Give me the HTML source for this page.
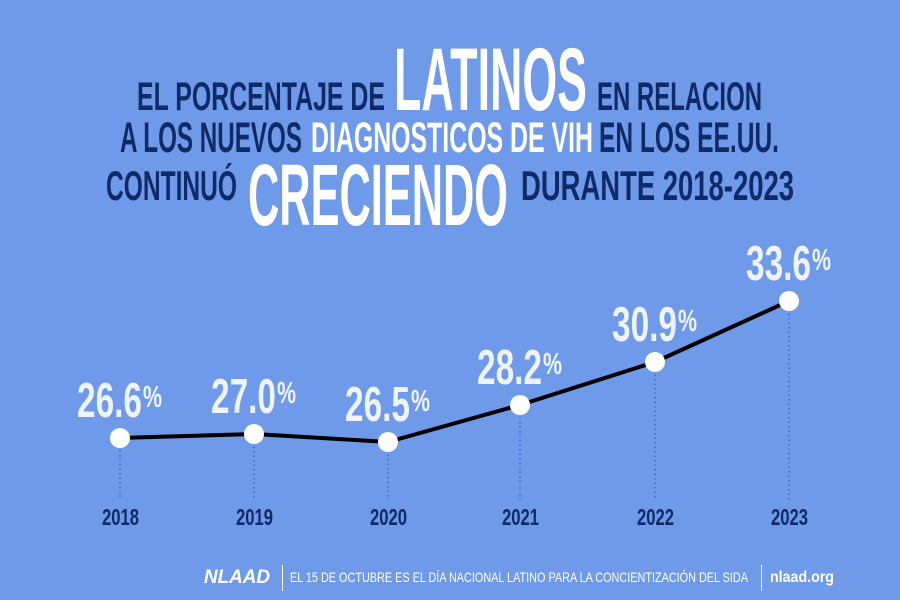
<!DOCTYPE html>
<html><head><meta charset="utf-8"><style>
html,body{margin:0;padding:0;background:#6f9aea;}
svg{display:block;}
text{font-family:"Liberation Sans Narrow","Liberation Sans",sans-serif;font-weight:bold;}
</style></head><body>
<svg width="900" height="600" viewBox="0 0 900 600" xmlns="http://www.w3.org/2000/svg">
<rect width="900" height="600" fill="#6f9aea"/>
<g fill="#0f2a66">
<text x="137" y="110" font-size="40" textLength="248" lengthAdjust="spacingAndGlyphs">EL PORCENTAJE DE</text>
<text x="597" y="110" font-size="40" textLength="165" lengthAdjust="spacingAndGlyphs">EN RELACION</text>
<text x="120" y="152" font-size="43" textLength="182" lengthAdjust="spacingAndGlyphs">A LOS NUEVOS</text>
<text x="599" y="152" font-size="43" textLength="180" lengthAdjust="spacingAndGlyphs">EN LOS EE.UU.</text>
<text x="106" y="200" font-size="42" textLength="131" lengthAdjust="spacingAndGlyphs">CONTINUÓ</text>
<text x="521" y="200" font-size="42" textLength="273" lengthAdjust="spacingAndGlyphs">DURANTE 2018-2023</text>
</g>
<g fill="#ffffff">
<text x="394" y="110" font-size="89" textLength="193" lengthAdjust="spacingAndGlyphs">LATINOS</text>
<text x="311" y="152" font-size="43" textLength="282" lengthAdjust="spacingAndGlyphs">DIAGNOSTICOS DE VIH</text>
<text x="248" y="225" font-size="87" textLength="260" lengthAdjust="spacingAndGlyphs">CRECIENDO</text>
</g>
<g stroke="#3e63d6" stroke-width="1.5" stroke-dasharray="1.5 3">
<line x1="120" y1="446" x2="120" y2="500"/>
<line x1="254" y1="442" x2="254" y2="500"/>
<line x1="388" y1="450" x2="388" y2="500"/>
<line x1="520" y1="413" x2="520" y2="500"/>
<line x1="655" y1="370" x2="655" y2="500"/>
<line x1="789" y1="309" x2="789" y2="500"/>
</g>
<polyline points="120,438 254,434 388,442 520,405 655,362 789,301" fill="none" stroke="#000" stroke-width="4" stroke-linejoin="round"/>
<g fill="#fff">
<circle cx="120" cy="438" r="10"/><circle cx="254" cy="434" r="10"/><circle cx="388" cy="442" r="10"/>
<circle cx="520" cy="405" r="10"/><circle cx="655" cy="362" r="10"/><circle cx="789" cy="301" r="10"/>
</g>
<g fill="#eef3fd">
<text x="77" y="417" font-size="49" textLength="65" lengthAdjust="spacingAndGlyphs">26.6</text><text x="143" y="407" font-size="31" textLength="19" lengthAdjust="spacingAndGlyphs">%</text>
<text x="211" y="413" font-size="49" textLength="65" lengthAdjust="spacingAndGlyphs">27.0</text><text x="277" y="403" font-size="31" textLength="19" lengthAdjust="spacingAndGlyphs">%</text>
<text x="345" y="421" font-size="49" textLength="65" lengthAdjust="spacingAndGlyphs">26.5</text><text x="411" y="411" font-size="31" textLength="19" lengthAdjust="spacingAndGlyphs">%</text>
<text x="477" y="384" font-size="49" textLength="65" lengthAdjust="spacingAndGlyphs">28.2</text><text x="543" y="374" font-size="31" textLength="19" lengthAdjust="spacingAndGlyphs">%</text>
<text x="612" y="341" font-size="49" textLength="65" lengthAdjust="spacingAndGlyphs">30.9</text><text x="678" y="331" font-size="31" textLength="19" lengthAdjust="spacingAndGlyphs">%</text>
<text x="746" y="280" font-size="49" textLength="65" lengthAdjust="spacingAndGlyphs">33.6</text><text x="812" y="270" font-size="31" textLength="19" lengthAdjust="spacingAndGlyphs">%</text>
</g>
<g fill="#0f2a66" font-size="23">
<text x="102" y="525" textLength="37" lengthAdjust="spacingAndGlyphs">2018</text>
<text x="236" y="525" textLength="37" lengthAdjust="spacingAndGlyphs">2019</text>
<text x="370" y="525" textLength="37" lengthAdjust="spacingAndGlyphs">2020</text>
<text x="502" y="525" textLength="37" lengthAdjust="spacingAndGlyphs">2021</text>
<text x="637" y="525" textLength="37" lengthAdjust="spacingAndGlyphs">2022</text>
<text x="771" y="525" textLength="37" lengthAdjust="spacingAndGlyphs">2023</text>
</g>
<g fill="#fff">
<text x="204" y="583" font-size="19" font-style="italic" textLength="66" lengthAdjust="spacingAndGlyphs">NLAAD</text>
<rect x="282" y="565" width="1" height="26"/>
<text x="290" y="582" font-size="14" font-weight="normal" style="font-weight:normal" textLength="458" lengthAdjust="spacingAndGlyphs">EL 15 DE OCTUBRE ES EL DÍA NACIONAL LATINO PARA LA CONCIENTIZACIÓN DEL SIDA</text>
<rect x="761" y="565" width="1" height="26"/>
<text x="770" y="582" font-size="16" textLength="64" lengthAdjust="spacingAndGlyphs">nlaad.org</text>
</g>
</svg>
</body></html>
